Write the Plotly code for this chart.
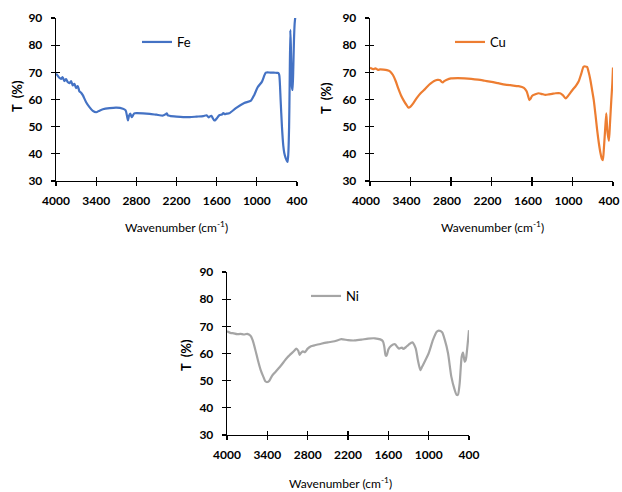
import plotly.graph_objects as go

# ---------------- data ----------------
fe_wn = [4000, 3975, 3950, 3925, 3900, 3875, 3850, 3825, 3800, 3775, 3750, 3725, 3700, 3675,
         3650, 3625, 3600, 3550, 3500, 3450, 3400, 3350, 3300, 3200, 3100, 3000, 2960, 2940,
         2925, 2910, 2890, 2870, 2850, 2830, 2800, 2700, 2600, 2500, 2400, 2360, 2345, 2330,
         2300, 2200, 2100, 2000, 1900, 1800, 1750, 1720, 1700, 1680, 1660, 1640, 1625, 1600,
         1560, 1520, 1500, 1480, 1450, 1413, 1313, 1188, 1088, 1038, 988, 923, 865, 800, 750,
         700, 680, 665, 645, 625, 605, 590, 570, 555, 541, 530, 518, 510, 500, 492, 484, 475,
         466, 455, 445, 435, 425]
fe_t = [69.5, 68.8, 68.0, 67.6, 68.2, 66.8, 67.5, 66.4, 66.0, 66.8, 65.2, 65.8, 64.2, 64.9,
        63.0, 62.5, 61.6, 59.0, 57.2, 55.8, 55.3, 55.9, 56.4, 56.8, 57.0, 56.6, 56.0, 54.0,
        52.3, 54.0, 54.8, 53.5, 54.2, 54.9, 55.0, 54.9, 54.7, 54.4, 54.1, 54.6, 54.9, 54.2,
        54.0, 53.7, 53.5, 53.5, 53.7, 53.9, 54.2, 53.4, 53.8, 54.0, 53.2, 52.4, 52.3, 53.0,
        54.2, 54.5, 55.0, 54.6, 54.8, 54.9, 56.8, 58.7, 59.6, 61.7, 64.5, 66.6, 69.9, 69.9, 69.9,
        69.8, 69.8, 69.0, 60.0, 50.0, 43.0, 40.3, 38.5, 37.6, 37.0, 40.0, 50.0, 65.0, 85.6, 80.0,
        70.0, 64.5, 63.5, 72.0, 82.0, 88.0, 90.5]

cu_wn = [4000, 3950, 3920, 3880, 3850, 3800, 3750, 3700, 3660, 3620, 3580, 3540, 3500, 3460,
         3430, 3400, 3360, 3300, 3250, 3200, 3150, 3100, 3050, 3000, 2960, 2940, 2920, 2900,
         2870, 2800, 2700, 2600, 2500, 2400, 2300, 2200, 2100, 2000, 1900, 1800, 1720, 1680,
         1660, 1640, 1620, 1600, 1550, 1500, 1450, 1400, 1350, 1300, 1250, 1185, 1140, 1100,
         1060, 1000, 950, 910, 870, 835, 785, 760, 735, 710, 685, 660, 635, 610, 585, 565, 550,
         535, 520, 500, 490, 480, 460, 445, 425, 410, 400]
cu_t = [71.7, 71.2, 71.5, 70.9, 71.1, 71.0, 70.8, 70.3, 69.0, 66.8, 64.0, 61.5, 59.6, 58.0,
        57.0, 57.4, 58.6, 60.8, 62.3, 63.5, 64.8, 65.9, 66.8, 67.2, 67.1, 66.5, 66.3, 66.8,
        67.2, 67.8, 67.9, 67.8, 67.6, 67.3, 66.9, 66.5, 66.0, 65.5, 65.2, 64.9, 64.3, 63.0,
        61.5, 59.8, 60.3, 61.3, 61.9, 62.3, 62.0, 61.7, 61.9, 62.1, 62.3, 62.3, 61.5, 60.4,
        61.5, 63.5, 65.0, 66.6, 69.5, 72.1, 72.0, 70.0, 67.2, 63.5, 59.8, 54.5, 48.8, 44.0,
        40.2, 38.2, 37.7, 42.0, 47.6, 54.9, 51.0, 47.6, 44.8, 51.0, 59.8, 66.0, 71.8]

ni_wn = [4000, 3950, 3900, 3850, 3800, 3750, 3700, 3650, 3620, 3580, 3540, 3500, 3460, 3430,
         3400, 3370, 3330, 3280, 3200, 3100, 3000, 2970, 2940, 2920, 2900, 2870, 2840, 2800,
         2750, 2700, 2600, 2500, 2400, 2300, 2200, 2100, 2000, 1900, 1800, 1720, 1680, 1660,
         1640, 1625, 1600, 1560, 1500, 1470, 1440, 1400, 1380, 1340, 1300, 1243, 1193, 1160,
         1124, 1100, 1060, 1000, 936, 880, 850, 800, 760, 712, 663, 613, 585, 565, 539, 509,
         489, 464, 450, 440, 400]
ni_t = [68.2, 67.6, 67.4, 67.1, 67.2, 67.0, 67.2, 66.5, 65.0, 61.5, 57.5, 54.0, 51.5, 49.8,
        49.5, 50.0, 51.8, 53.2, 55.5, 58.6, 61.0, 61.8, 61.0, 59.5, 60.2, 60.8, 60.5, 61.8,
        62.7, 63.0, 63.6, 64.1, 64.5, 65.3, 64.9, 64.8, 65.1, 65.5, 65.6, 65.2, 64.5, 62.5,
        59.3, 59.2, 61.5, 62.8, 63.4, 62.5, 61.8, 62.2, 61.7, 62.3, 63.2, 64.1, 61.9, 57.5,
        53.9, 55.0, 57.0, 60.1, 65.0, 68.0, 68.4, 67.8, 65.0, 60.1, 51.5, 46.6, 44.8, 44.8,
        49.0, 58.8, 60.3, 57.0, 57.5, 58.8, 68.6]

x_ticks = [4000, 3400, 2800, 2200, 1600, 1000, 400]
y_ticks = [30, 40, 50, 60, 70, 80, 90]
x_title = "Wavenumber (cm<sup>-1</sup>)"
y_title = "T  (%)"

# ---------------- layout helpers ----------------
W, H = 622, 492
FONT = "Lato, Liberation Sans, sans-serif"


def px(x):
    return x / W


def py(y):
    return 1 - y / H


panels = [
    dict(name="Fe", color="#4472C4", wn=fe_wn, t=fe_t, box=(56, 297, 18, 181),
         leg=(137, 42), xt=(176.5, 227), yt=(17, 96), shift=0),
    dict(name="Cu", color="#ED7D31", wn=cu_wn, t=cu_t, box=(370, 613, 18, 181),
         leg=(450, 42), xt=(492, 227), yt=(326, 98), shift=4),
    dict(name="Ni", color="#A5A5A5", wn=ni_wn, t=ni_t, box=(227, 469, 272, 435),
         leg=(306, 296), xt=(340, 483), yt=(186, 355), shift=0),
]

fig = go.Figure()
layout = dict(
    template="none",
    width=W, height=H,
    margin=dict(l=0, r=0, t=0, b=0, autoexpand=False),
    paper_bgcolor="white", plot_bgcolor="white",
    font=dict(family=FONT, size=12, color="black"),
    showlegend=True,
    annotations=[],
)

tickfont = dict(family=FONT, size=12, color="black", weight="bold")
TICKLEN = 4
STANDOFF = 4

for i, p in enumerate(panels):
    n = i + 1
    xa = "x" if n == 1 else f"x{n}"
    ya = "y" if n == 1 else f"y{n}"
    lk = "legend" if n == 1 else f"legend{n}"
    ox, oy = f"x{n + 3}", f"y{n + 3}"
    l, r, t, b = p["box"]
    fig.add_trace(go.Scatter(
        x=p["wn"], y=p["t"], mode="lines", name=p["name"],
        line=dict(color=p["color"], width=2.2, shape="spline", smoothing=0.6),
        xaxis=xa, yaxis=ya, legend=lk, hoverinfo="skip",
    ))
    # empty helper trace so that the overlay axes (inner half of cross ticks) are drawn
    fig.add_trace(go.Scatter(x=[], y=[], mode="lines", xaxis=ox, yaxis=oy,
                             showlegend=False, hoverinfo="skip"))
    common = dict(showgrid=False, zeroline=False, tickcolor="black", tickwidth=1.3,
                  ticklen=TICKLEN, automargin=False)
    layout["xaxis" if n == 1 else f"xaxis{n}"] = dict(
        domain=[px(l), px(r)], anchor=ya, range=[4000, 400], tickvals=x_ticks,
        ticktext=[str(v) for v in x_ticks], ticks="outside", showline=True,
        ticklabeloverflow="allow", ticklabelshift=p["shift"],
        linecolor="black", linewidth=1.3, tickfont=tickfont, ticklabelstandoff=STANDOFF,
        **common)
    layout["yaxis" if n == 1 else f"yaxis{n}"] = dict(
        domain=[py(b), py(t)], anchor=xa, range=[30, 90], tickvals=y_ticks,
        ticktext=[str(v) for v in y_ticks], ticks="outside", showline=True,
        linecolor="black", linewidth=1.3, tickfont=tickfont, ticklabelstandoff=6, **common)
    layout[f"xaxis{n + 3}"] = dict(
        domain=[px(l), px(r)], anchor=ya, overlaying=xa, range=[4000, 400],
        tickvals=x_ticks, ticks="inside", showticklabels=False, showline=False, side="bottom",
        **common)
    layout[f"yaxis{n + 3}"] = dict(
        domain=[py(b), py(t)], anchor=xa, overlaying=ya, range=[30, 90],
        tickvals=y_ticks, ticks="inside", showticklabels=False, showline=False, side="left",
        **common)
    lx, ly = p["leg"]
    layout[lk] = dict(x=px(lx), y=py(ly), xanchor="left", yanchor="middle",
                      bgcolor="rgba(0,0,0,0)", borderwidth=0,
                      font=dict(family=FONT, size=13, color="black"),
                      itemclick=False, itemdoubleclick=False)
    layout["annotations"].append(dict(
        text=x_title, x=px(p["xt"][0]), y=py(p["xt"][1]), xref="paper", yref="paper",
        showarrow=False, xanchor="center", yanchor="middle",
        font=dict(family=FONT, size=12, color="black")))
    layout["annotations"].append(dict(
        text=y_title, x=px(p["yt"][0]), y=py(p["yt"][1]), xref="paper", yref="paper",
        showarrow=False, xanchor="center", yanchor="middle", textangle=-90,
        font=dict(family=FONT, size=13, color="black", weight="bold")))

fig.update_layout(**layout)
fig.write_html(
    "out.html",
    config={"displayModeBar": False, "staticPlot": True},
    post_script="document.body.style.margin='0px';document.body.style.overflow='hidden';",
)
